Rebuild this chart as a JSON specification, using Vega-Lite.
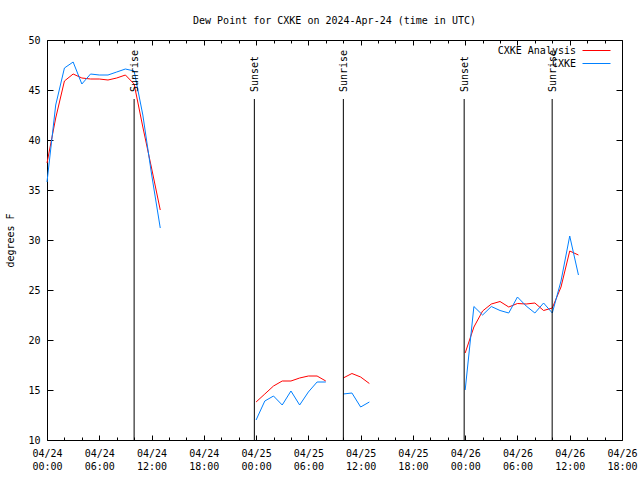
{
  "$schema": "https://vega.github.io/schema/vega-lite/v6.json",
  "width": 575,
  "height": 400,
  "autosize": {"type": "none"},
  "padding": {"left": 47, "top": 40, "right": 18, "bottom": 40},
  "background": "white",
  "config": {
    "font": "DejaVu Sans Mono",
    "view": {"stroke": "black", "strokeWidth": 1},
    "axis": {
      "labelFont": "DejaVu Sans Mono", "labelFontSize": 10, "labelColor": "black",
      "tickColor": "black", "domain": false, "grid": false,
      "titleFont": "DejaVu Sans Mono", "titleFontSize": 10, "titleFontWeight": "normal", "titleColor": "black"
    }
  },
  "title": {"text": "Dew Point for CXKE on 2024-Apr-24 (time in UTC)", "fontSize": 10, "fontWeight": "normal", "font": "DejaVu Sans Mono", "anchor": "middle", "offset": 9, "color": "black"},
  "datasets": {
    "obs": [
      {"time": "2024-04-24T00:00:00Z", "series": "CXKE Analysis", "segment": 1, "dewpoint": 37.7},
      {"time": "2024-04-24T01:00:00Z", "series": "CXKE Analysis", "segment": 1, "dewpoint": 42.2},
      {"time": "2024-04-24T02:00:00Z", "series": "CXKE Analysis", "segment": 1, "dewpoint": 45.9},
      {"time": "2024-04-24T03:00:00Z", "series": "CXKE Analysis", "segment": 1, "dewpoint": 46.6},
      {"time": "2024-04-24T04:00:00Z", "series": "CXKE Analysis", "segment": 1, "dewpoint": 46.2},
      {"time": "2024-04-24T05:00:00Z", "series": "CXKE Analysis", "segment": 1, "dewpoint": 46.1},
      {"time": "2024-04-24T06:00:00Z", "series": "CXKE Analysis", "segment": 1, "dewpoint": 46.1},
      {"time": "2024-04-24T07:00:00Z", "series": "CXKE Analysis", "segment": 1, "dewpoint": 46.0},
      {"time": "2024-04-24T08:00:00Z", "series": "CXKE Analysis", "segment": 1, "dewpoint": 46.2},
      {"time": "2024-04-24T09:00:00Z", "series": "CXKE Analysis", "segment": 1, "dewpoint": 46.5},
      {"time": "2024-04-24T10:00:00Z", "series": "CXKE Analysis", "segment": 1, "dewpoint": 45.6},
      {"time": "2024-04-24T11:00:00Z", "series": "CXKE Analysis", "segment": 1, "dewpoint": 41.3},
      {"time": "2024-04-24T12:00:00Z", "series": "CXKE Analysis", "segment": 1, "dewpoint": 37.2},
      {"time": "2024-04-24T13:00:00Z", "series": "CXKE Analysis", "segment": 1, "dewpoint": 33.0},
      {"time": "2024-04-24T00:00:00Z", "series": "CXKE", "segment": 1, "dewpoint": 35.8},
      {"time": "2024-04-24T01:00:00Z", "series": "CXKE", "segment": 1, "dewpoint": 43.5},
      {"time": "2024-04-24T02:00:00Z", "series": "CXKE", "segment": 1, "dewpoint": 47.2},
      {"time": "2024-04-24T03:00:00Z", "series": "CXKE", "segment": 1, "dewpoint": 47.8},
      {"time": "2024-04-24T04:00:00Z", "series": "CXKE", "segment": 1, "dewpoint": 45.6},
      {"time": "2024-04-24T05:00:00Z", "series": "CXKE", "segment": 1, "dewpoint": 46.6},
      {"time": "2024-04-24T06:00:00Z", "series": "CXKE", "segment": 1, "dewpoint": 46.5},
      {"time": "2024-04-24T07:00:00Z", "series": "CXKE", "segment": 1, "dewpoint": 46.5},
      {"time": "2024-04-24T08:00:00Z", "series": "CXKE", "segment": 1, "dewpoint": 46.8},
      {"time": "2024-04-24T09:00:00Z", "series": "CXKE", "segment": 1, "dewpoint": 47.1},
      {"time": "2024-04-24T10:00:00Z", "series": "CXKE", "segment": 1, "dewpoint": 46.9},
      {"time": "2024-04-24T11:00:00Z", "series": "CXKE", "segment": 1, "dewpoint": 42.5},
      {"time": "2024-04-24T12:00:00Z", "series": "CXKE", "segment": 1, "dewpoint": 36.6},
      {"time": "2024-04-24T13:00:00Z", "series": "CXKE", "segment": 1, "dewpoint": 31.2},

      {"time": "2024-04-25T00:00:00Z", "series": "CXKE Analysis", "segment": 2, "dewpoint": 13.8},
      {"time": "2024-04-25T01:00:00Z", "series": "CXKE Analysis", "segment": 2, "dewpoint": 14.6},
      {"time": "2024-04-25T02:00:00Z", "series": "CXKE Analysis", "segment": 2, "dewpoint": 15.4},
      {"time": "2024-04-25T03:00:00Z", "series": "CXKE Analysis", "segment": 2, "dewpoint": 15.9},
      {"time": "2024-04-25T04:00:00Z", "series": "CXKE Analysis", "segment": 2, "dewpoint": 15.9},
      {"time": "2024-04-25T05:00:00Z", "series": "CXKE Analysis", "segment": 2, "dewpoint": 16.2},
      {"time": "2024-04-25T06:00:00Z", "series": "CXKE Analysis", "segment": 2, "dewpoint": 16.4},
      {"time": "2024-04-25T07:00:00Z", "series": "CXKE Analysis", "segment": 2, "dewpoint": 16.4},
      {"time": "2024-04-25T08:00:00Z", "series": "CXKE Analysis", "segment": 2, "dewpoint": 15.9},
      {"time": "2024-04-25T00:00:00Z", "series": "CXKE", "segment": 2, "dewpoint": 12.0},
      {"time": "2024-04-25T01:00:00Z", "series": "CXKE", "segment": 2, "dewpoint": 13.9},
      {"time": "2024-04-25T02:00:00Z", "series": "CXKE", "segment": 2, "dewpoint": 14.4},
      {"time": "2024-04-25T03:00:00Z", "series": "CXKE", "segment": 2, "dewpoint": 13.5},
      {"time": "2024-04-25T04:00:00Z", "series": "CXKE", "segment": 2, "dewpoint": 14.9},
      {"time": "2024-04-25T05:00:00Z", "series": "CXKE", "segment": 2, "dewpoint": 13.5},
      {"time": "2024-04-25T06:00:00Z", "series": "CXKE", "segment": 2, "dewpoint": 14.8},
      {"time": "2024-04-25T07:00:00Z", "series": "CXKE", "segment": 2, "dewpoint": 15.8},
      {"time": "2024-04-25T08:00:00Z", "series": "CXKE", "segment": 2, "dewpoint": 15.8},

      {"time": "2024-04-25T10:00:00Z", "series": "CXKE Analysis", "segment": 3, "dewpoint": 16.2},
      {"time": "2024-04-25T11:00:00Z", "series": "CXKE Analysis", "segment": 3, "dewpoint": 16.65},
      {"time": "2024-04-25T12:00:00Z", "series": "CXKE Analysis", "segment": 3, "dewpoint": 16.3},
      {"time": "2024-04-25T13:00:00Z", "series": "CXKE Analysis", "segment": 3, "dewpoint": 15.65},
      {"time": "2024-04-25T10:00:00Z", "series": "CXKE", "segment": 3, "dewpoint": 14.6},
      {"time": "2024-04-25T11:00:00Z", "series": "CXKE", "segment": 3, "dewpoint": 14.7},
      {"time": "2024-04-25T12:00:00Z", "series": "CXKE", "segment": 3, "dewpoint": 13.3},
      {"time": "2024-04-25T13:00:00Z", "series": "CXKE", "segment": 3, "dewpoint": 13.8},

      {"time": "2024-04-26T00:00:00Z", "series": "CXKE Analysis", "segment": 4, "dewpoint": 18.7},
      {"time": "2024-04-26T01:00:00Z", "series": "CXKE Analysis", "segment": 4, "dewpoint": 21.3},
      {"time": "2024-04-26T02:00:00Z", "series": "CXKE Analysis", "segment": 4, "dewpoint": 22.9},
      {"time": "2024-04-26T03:00:00Z", "series": "CXKE Analysis", "segment": 4, "dewpoint": 23.6},
      {"time": "2024-04-26T04:00:00Z", "series": "CXKE Analysis", "segment": 4, "dewpoint": 23.85},
      {"time": "2024-04-26T05:00:00Z", "series": "CXKE Analysis", "segment": 4, "dewpoint": 23.3},
      {"time": "2024-04-26T06:00:00Z", "series": "CXKE Analysis", "segment": 4, "dewpoint": 23.65},
      {"time": "2024-04-26T07:00:00Z", "series": "CXKE Analysis", "segment": 4, "dewpoint": 23.6},
      {"time": "2024-04-26T08:00:00Z", "series": "CXKE Analysis", "segment": 4, "dewpoint": 23.7},
      {"time": "2024-04-26T09:00:00Z", "series": "CXKE Analysis", "segment": 4, "dewpoint": 22.95},
      {"time": "2024-04-26T10:00:00Z", "series": "CXKE Analysis", "segment": 4, "dewpoint": 23.2},
      {"time": "2024-04-26T11:00:00Z", "series": "CXKE Analysis", "segment": 4, "dewpoint": 25.3},
      {"time": "2024-04-26T12:00:00Z", "series": "CXKE Analysis", "segment": 4, "dewpoint": 28.9},
      {"time": "2024-04-26T13:00:00Z", "series": "CXKE Analysis", "segment": 4, "dewpoint": 28.5},
      {"time": "2024-04-26T00:00:00Z", "series": "CXKE", "segment": 4, "dewpoint": 15.0},
      {"time": "2024-04-26T01:00:00Z", "series": "CXKE", "segment": 4, "dewpoint": 23.35},
      {"time": "2024-04-26T02:00:00Z", "series": "CXKE", "segment": 4, "dewpoint": 22.5},
      {"time": "2024-04-26T03:00:00Z", "series": "CXKE", "segment": 4, "dewpoint": 23.35},
      {"time": "2024-04-26T04:00:00Z", "series": "CXKE", "segment": 4, "dewpoint": 22.95},
      {"time": "2024-04-26T05:00:00Z", "series": "CXKE", "segment": 4, "dewpoint": 22.7},
      {"time": "2024-04-26T06:00:00Z", "series": "CXKE", "segment": 4, "dewpoint": 24.3},
      {"time": "2024-04-26T07:00:00Z", "series": "CXKE", "segment": 4, "dewpoint": 23.4},
      {"time": "2024-04-26T08:00:00Z", "series": "CXKE", "segment": 4, "dewpoint": 22.7},
      {"time": "2024-04-26T09:00:00Z", "series": "CXKE", "segment": 4, "dewpoint": 23.7},
      {"time": "2024-04-26T10:00:00Z", "series": "CXKE", "segment": 4, "dewpoint": 22.7},
      {"time": "2024-04-26T11:00:00Z", "series": "CXKE", "segment": 4, "dewpoint": 25.9},
      {"time": "2024-04-26T12:00:00Z", "series": "CXKE", "segment": 4, "dewpoint": 30.4},
      {"time": "2024-04-26T13:00:00Z", "series": "CXKE", "segment": 4, "dewpoint": 26.5}
    ],
    "events": [
      {"time": "2024-04-24T10:00:00Z", "event": "Sunrise"},
      {"time": "2024-04-24T23:48:00Z", "event": "Sunset"},
      {"time": "2024-04-25T10:01:00Z", "event": "Sunrise"},
      {"time": "2024-04-25T23:53:00Z", "event": "Sunset"},
      {"time": "2024-04-26T09:59:00Z", "event": "Sunrise"}
    ]
  },
  "layer": [
    {
      "data": {"name": "obs"},
      "mark": {"type": "line", "strokeWidth": 1},
      "encoding": {
        "x": {
          "field": "time", "type": "temporal",
          "scale": {"type": "utc", "domain": [1713916800000, 1714154400000]},
          "axis": {
            "orient": "bottom", "title": null,
            "values": [1713916800000, 1713924000000, 1713931200000, 1713938400000, 1713945600000, 1713952800000, 1713960000000, 1713967200000, 1713974400000, 1713981600000, 1713988800000, 1713996000000, 1714003200000, 1714010400000, 1714017600000, 1714024800000, 1714032000000, 1714039200000, 1714046400000, 1714053600000, 1714060800000, 1714068000000, 1714075200000, 1714082400000, 1714089600000, 1714096800000, 1714104000000, 1714111200000, 1714118400000, 1714125600000, 1714132800000, 1714140000000, 1714147200000, 1714154400000],
            "labelExpr": "utchours(datum.value) % 6 === 0 ? [utcFormat(datum.value, '%m/%d'), utcFormat(datum.value, '%H:%M')] : ''",
            "tickSize": {"condition": {"test": "utchours(datum.value) % 6 === 0", "value": -5}, "value": -3},
            "labelFlush": false, "labelOverlap": false, "labelBaseline": "top", "labelLineHeight": 13, "labelPadding": 13
          }
        },
        "y": {
          "field": "dewpoint", "type": "quantitative",
          "scale": {"domain": [10, 50], "nice": false, "zero": false},
          "axis": {"orient": "left", "title": "degrees F", "values": [10, 15, 20, 25, 30, 35, 40, 45, 50], "tickSize": -6, "labelPadding": 13, "titlePadding": 12}
        },
        "color": {
          "field": "series", "type": "nominal",
          "scale": {"domain": ["CXKE Analysis", "CXKE"], "range": ["#ff0000", "#0080ff"]},
          "legend": {
            "orient": "none", "legendX": 542, "legendY": 3, "title": null,
            "symbolType": "M-2,0H2", "symbolSize": 196, "symbolStrokeWidth": 1,
            "labelAlign": "right", "labelOffset": -28, "labelFontSize": 10, "labelFont": "DejaVu Sans Mono", "labelColor": "black",
            "padding": 0, "rowPadding": 0, "labelLimit": 200
          }
        },
        "detail": {"field": "segment", "type": "nominal"}
      }
    },
    {
      "data": {"name": "events"},
      "mark": {"type": "rule", "color": "black", "strokeWidth": 1},
      "encoding": {
        "x": {
          "field": "time", "type": "temporal",
          "axis": {
            "orient": "top", "title": null, "labels": false,
            "values": [1713916800000, 1713924000000, 1713931200000, 1713938400000, 1713945600000, 1713952800000, 1713960000000, 1713967200000, 1713974400000, 1713981600000, 1713988800000, 1713996000000, 1714003200000, 1714010400000, 1714017600000, 1714024800000, 1714032000000, 1714039200000, 1714046400000, 1714053600000, 1714060800000, 1714068000000, 1714075200000, 1714082400000, 1714089600000, 1714096800000, 1714104000000, 1714111200000, 1714118400000, 1714125600000, 1714132800000, 1714140000000, 1714147200000, 1714154400000],
            "tickSize": {"condition": {"test": "utchours(datum.value) % 6 === 0", "value": -5}, "value": -3}
          }
        },
        "y": {"datum": 44.1, "type": "quantitative", "axis": {"orient": "right", "title": null, "labels": false, "values": [10, 15, 20, 25, 30, 35, 40, 45, 50], "tickSize": -6}},
        "y2": {"datum": 10}
      }
    },
    {
      "data": {"name": "events"},
      "mark": {"type": "text", "angle": 270, "align": "left", "baseline": "middle", "dy": 1, "fontSize": 10, "font": "DejaVu Sans Mono", "color": "black"},
      "encoding": {
        "x": {"field": "time", "type": "temporal", "axis": null},
        "y": {"datum": 44.8, "type": "quantitative", "axis": null},
        "text": {"field": "event"}
      }
    }
  ],
  "resolve": {"axis": {"x": "independent", "y": "independent"}}
}
